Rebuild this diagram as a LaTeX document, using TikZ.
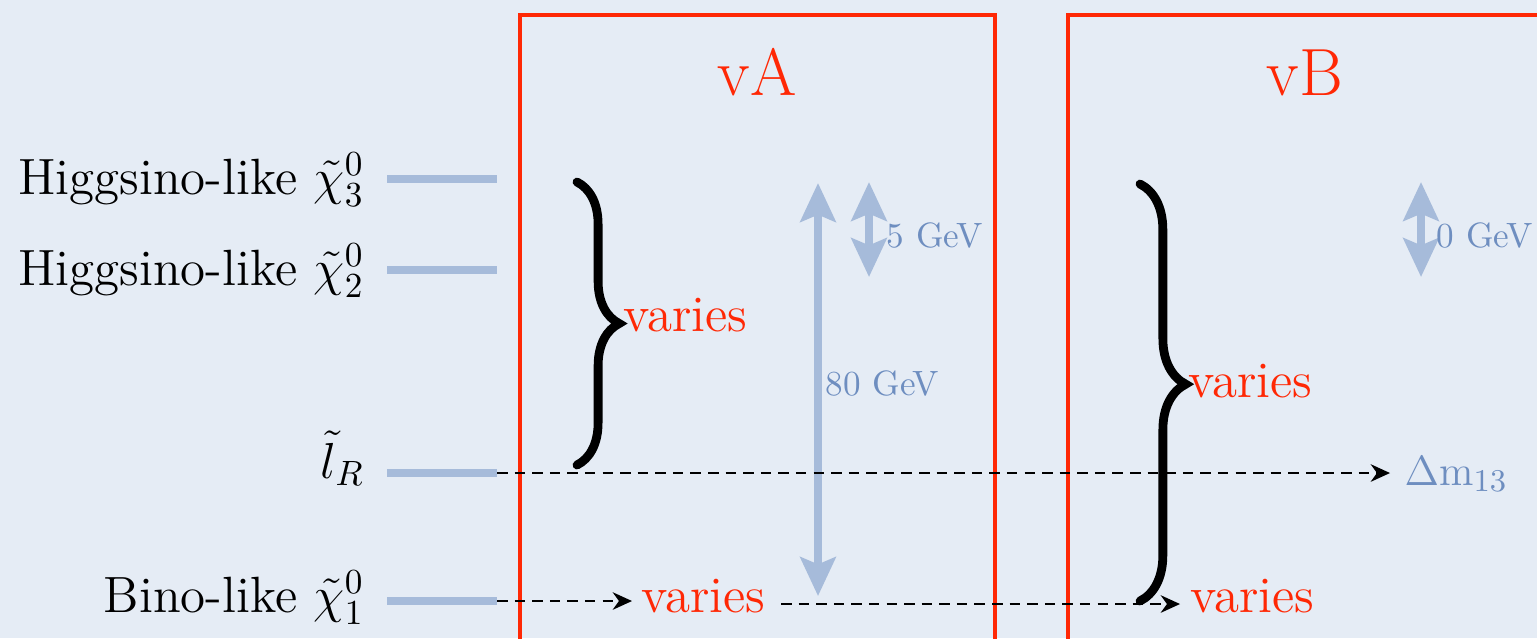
\documentclass[tikz,border=0pt]{standalone}
\usetikzlibrary{arrows.meta,decorations.pathreplacing}
\definecolor{bg}{RGB}{229,236,245}
\definecolor{boxred}{RGB}{255,40,5}
\definecolor{lvl}{RGB}{166,187,218}
\definecolor{bluetxt}{RGB}{110,142,192}
\tikzset{
  lvlline/.style={draw=lvl,line width=2.3pt},
  redbox/.style={draw=boxred,line width=1.2pt},
  lab/.style={inner sep=0pt,font=\fontsize{14.5}{16}\selectfont},
  redlab/.style={inner sep=0pt,text=boxred,font=\fontsize{14.5}{16}\selectfont},
  title/.style={inner sep=0pt,text=boxred,font=\fontsize{19}{22}\selectfont},
  gevlab/.style={inner sep=0pt,text=bluetxt,font=\fontsize{10}{12}\selectfont},
  dashar/.style={draw=black,line width=0.6pt,dash pattern=on 3pt off 2pt,-{Stealth[length=5.5pt,width=5pt]}},
  bluear/.style={draw=lvl,line width=2.3pt,{Stealth[length=11pt,width=10pt,inset=2pt]}-{Stealth[length=11pt,width=10pt,inset=2pt]}},
  bracestyle/.style={draw=black,line width=2.5pt,line cap=round,decorate},
}
\begin{document}
\begin{tikzpicture}[x=0.01cm,y=-0.01cm]
\fill[bg] (0,0) rectangle (1537,638);
\useasboundingbox (0,0) rectangle (1537,638);
% red boxes
\begin{scope}
\clip (0,0) rectangle (1537,638);
\draw[redbox] (520,15) rectangle (995,660);
\draw[redbox] (1068,15) rectangle (1560,660);
\end{scope}
\node[title,anchor=base] (vA) at (757,95) {vA};
\node[title,anchor=base] (vB) at (1305,95) {vB};
% levels
\coordinate (c3a) at (387,179); \coordinate (c3b) at (497,179);
\coordinate (c2a) at (387,270); \coordinate (c2b) at (497,270);
\coordinate (lra) at (387,473); \coordinate (lrb) at (497,473);
\coordinate (c1a) at (387,601); \coordinate (c1b) at (497,601);
\draw[lvlline] (c3a) -- (c3b);
\draw[lvlline] (c2a) -- (c2b);
\draw[lvlline] (lra) -- (lrb);
\draw[lvlline] (c1a) -- (c1b);
\node[lab,anchor=base east] (l3) at (365,194) {Higgsino-like $\tilde\chi_3^0$};
\node[lab,anchor=base east] (l2) at (365,285) {Higgsino-like $\tilde\chi_2^0$};
\node[lab,anchor=base east] (llr) at (365,478) {$\tilde l_R$};
\node[lab,anchor=base east] (l1) at (365,612) {Bino-like $\tilde\chi_1^0$};
% blue arrows
\coordinate (a80t) at (818,183); \coordinate (a80b) at (818,596);
\draw[bluear] (a80t) -- (a80b);
\node[gevlab,anchor=base west] (g80) at (825,395) {80 GeV};
\coordinate (a5t) at (869,182); \coordinate (a5b) at (869,277);
\draw[bluear] (a5t) -- (a5b);
\node[gevlab,anchor=base west] (g5) at (886,247) {5 GeV};
\coordinate (a0t) at (1421,182); \coordinate (a0b) at (1421,277);
\draw[bluear] (a0t) -- (a0b);
\node[gevlab,anchor=base west] (g0) at (1436,247) {0 GeV};
% braces
\coordinate (bAt) at (577,182); \coordinate (bAb) at (577,465);
\draw[bracestyle,decoration={brace,amplitude=12pt,aspect=0.5}] (bAt) -- (bAb);
\node[redlab,anchor=base west] (vaA) at (623,331) {varies};
\coordinate (bBt) at (1140,184); \coordinate (bBb) at (1140,601);
\draw[bracestyle,decoration={brace,amplitude=13pt,aspect=0.48}] (bBt) -- (bBb);
\node[redlab,anchor=base west] (vaB) at (1188,397) {varies};
% dashed arrows
\node[lab,text=bluetxt,anchor=base west,font=\fontsize{13}{15}\selectfont] (dm) at (1404,485) {$\Delta\mathrm{m}_{13}$};
\coordinate (dmend) at (1390,473);
\draw[dashar] (lrb) -- (dmend);
\node[redlab,anchor=base west] (v1) at (641,612) {varies};
\node[redlab,anchor=base west] (v2) at (1190,612) {varies};
\coordinate (d1e) at (632,601);
\draw[dashar] (c1b) -- (d1e);
\coordinate (d2s) at (781,604); \coordinate (d2e) at (1180,604);
\draw[dashar] (d2s) -- (d2e);
\end{tikzpicture}
\end{document}
